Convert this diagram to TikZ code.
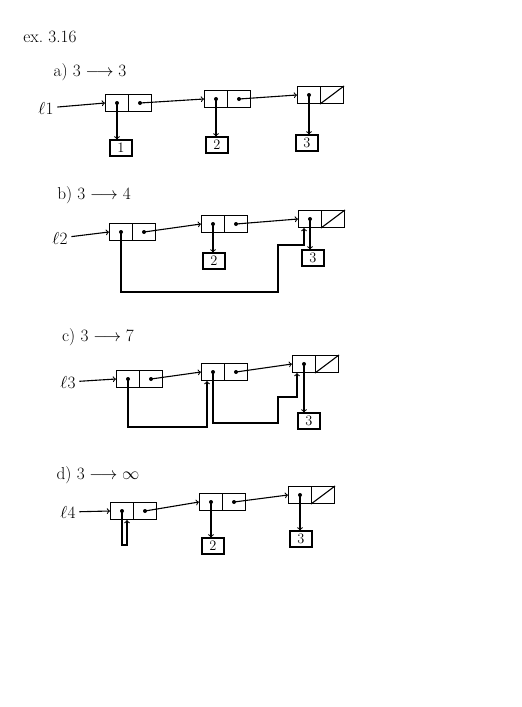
\documentclass[tikz,border=0pt]{standalone}
\usepackage{amsmath}
\tikzset{
  cell/.style={draw,minimum width=23pt,minimum height=17pt,inner sep=0pt},
  valbox/.style={draw,minimum width=22pt,minimum height=16pt,inner sep=0pt,font=\Large},
  lbl/.style={font=\LARGE}
}
\begin{document}
\begin{tikzpicture}[x=1pt,y=-1pt,line width=1.1pt]
	\useasboundingbox (0,0) rectangle (522,707);
	\node[lbl] (title) at (50,37) {ex.\ 3.16};
	% a)
	\node[lbl] (ta) at (90,72) {a) $3\longrightarrow3$};
	\node[lbl] (l1) at (46,108) {$\ell1$};
	\node[cell] (a1car) at (117,103) {};
	\node[cell] (a1cdr) at (140,103) {};
	\node[cell] (a2car) at (216,99) {};
	\node[cell] (a2cdr) at (239,99) {};
	\node[cell] (a3car) at (309,95) {};
	\node[cell] (a3cdr) at (332,95) {};
	\node[valbox] (a1v) at (121,148) {1};
	\node[valbox] (a2v) at (217,145) {2};
	\node[valbox] (a3v) at (307,143) {3};
	\draw[->] (l1) -- (a1car.west);
	\draw[->] (a1cdr.center) -- (a2car.west);
	\draw[->] (a2cdr.center) -- (a3car.west);
	\draw[->] (a1car.center) -- (a1car.center |- a1v.north);
	\draw[->] (a2car.center) -- (a2car.center |- a2v.north);
	\draw[->] (a3car.center) -- (a3car.center |- a3v.north);
	\draw (a3cdr.south west) -- (a3cdr.north east);
	% b)
	\node[lbl] (tb) at (94,195) {b) $3\longrightarrow4$};
	\node[lbl] (l2) at (60,238) {$\ell2$};
	\node[cell] (b1car) at (121,232) {};
	\node[cell] (b1cdr) at (144,232) {};
	\node[cell] (b2car) at (213,224) {};
	\node[cell] (b2cdr) at (236,224) {};
	\node[cell] (b3car) at (310,219) {};
	\node[cell] (b3cdr) at (333,219) {};
	\node[valbox] (b2v) at (214,261) {2};
	\node[valbox] (b3v) at (313,258) {3};
	\draw[->] (l2) -- (b1car.west);
	\draw[->] (b1cdr.center) -- (b2car.west);
	\draw[->] (b2cdr.center) -- (b3car.west);
	\draw[->] (b2car.center) -- (b2car.center |- b2v.north);
	\draw[->] (b3car.center) -- (b3car.center |- b3v.north);
	\draw (b3cdr.south west) -- (b3cdr.north east);
	\draw[->] (b1car.center) -- ++(0,60) -| (278,245) -| ([xshift=-6pt]b3car.south);
	% c)
	\node[lbl] (tc) at (98,337) {c) $3\longrightarrow7$};
	\node[lbl] (l3) at (68,382) {$\ell3$};
	\node[cell] (c1car) at (128,379) {};
	\node[cell] (c1cdr) at (151,379) {};
	\node[cell] (c2car) at (213,372) {};
	\node[cell] (c2cdr) at (236,372) {};
	\node[cell] (c3car) at (304,364) {};
	\node[cell] (c3cdr) at (327,364) {};
	\node[valbox] (c3v) at (309,421) {3};
	\draw[->] (l3) -- (c1car.west);
	\draw[->] (c1cdr.center) -- (c2car.west);
	\draw[->] (c2cdr.center) -- (c3car.west);
	\draw[->] (c3car.center) -- (c3car.center |- c3v.north);
	\draw (c3cdr.south west) -- (c3cdr.north east);
	\draw[->] (c1car.center) -- ++(0,48) -| ([xshift=-6pt]c2car.south);
	\draw[->] (c2car.center) -- ++(0,51) -| (278,397) -| ([xshift=-7pt]c3car.south);
	% d)
	\node[lbl] (td) at (98,475) {d) $3\longrightarrow\infty$};
	\node[lbl] (l4) at (68,512) {$\ell4$};
	\node[cell] (d1car) at (122,511) {};
	\node[cell] (d1cdr) at (145,511) {};
	\node[cell] (d2car) at (211,502) {};
	\node[cell] (d2cdr) at (234,502) {};
	\node[cell] (d3car) at (300,495) {};
	\node[cell] (d3cdr) at (323,495) {};
	\node[valbox] (d2v) at (213,546) {2};
	\node[valbox] (d3v) at (301,539) {3};
	\draw[->] (l4) -- (d1car.west);
	\draw[->] (d1cdr.center) -- (d2car.west);
	\draw[->] (d2cdr.center) -- (d3car.west);
	\draw[->] (d2car.center) -- (d2car.center |- d2v.north);
	\draw[->] (d3car.center) -- (d3car.center |- d3v.north);
	\draw (d3cdr.south west) -- (d3cdr.north east);
	\draw[->] (d1car.center) -- ++(0,34) -| ([xshift=5pt]d1car.south);
	% dots
	\foreach \c in {a1car,a1cdr,a2car,a2cdr,a3car,b1car,b1cdr,b2car,b2cdr,b3car,
	  c1car,c1cdr,c2car,c2cdr,c3car,d1car,d1cdr,d2car,d2cdr,d3car}
	  \fill (\c) circle (2);
\end{tikzpicture}
\end{document}
